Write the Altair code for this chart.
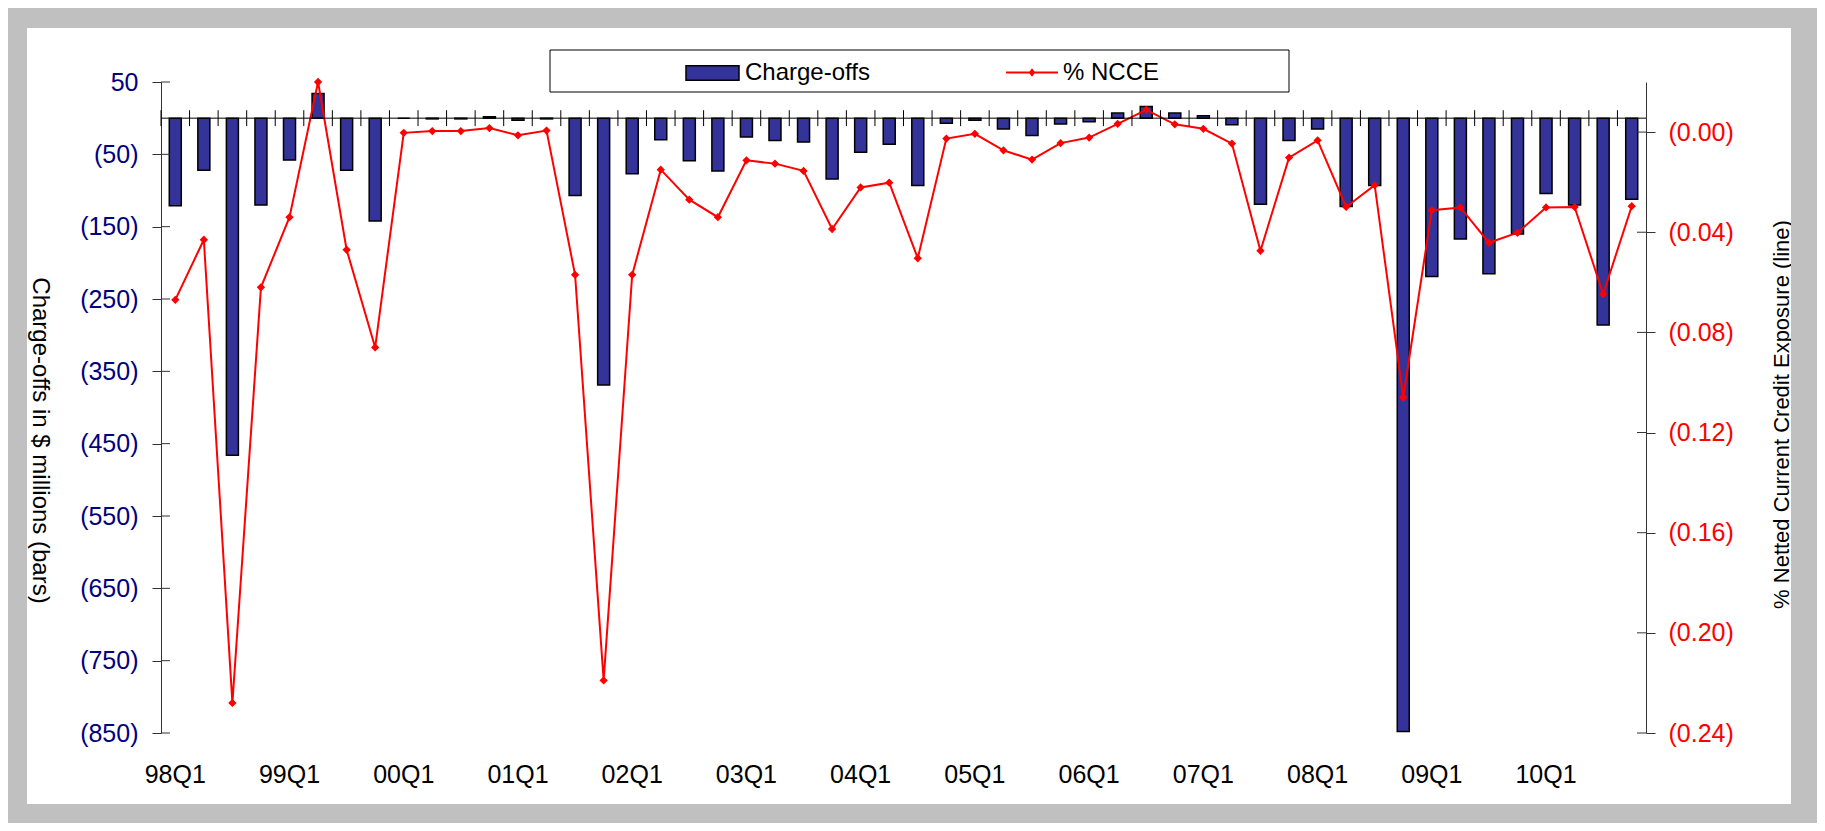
import altair as alt
import pandas as pd

years = ["98", "99", "00", "01", "02", "03", "04", "05", "06", "07", "08", "09", "10"]
quarters = [y + "Q" + str(q) for y in years for q in (1, 2, 3, 4)]
x_labels = [y + "Q1" for y in years]
series_names = ["Charge-offs", "% NCCE"]

charge_offs = [
    -121, -72, -466, -120, -58, 34, -72, -142,
    0, -1, -1, 2, -3, -1, -107, -369,
    -77, -30, -59, -73, -26, -31, -33, -84,
    -47, -36, -93, -7, -3, -15, -24, -8,
    -5, 7, 16, 7, 3.5, -9, -119, -31,
    -15, -122, -93, -848, -219, -167, -215, -160,
    -104, -120, -286, -112,
]
ncce = [
    -0.067, -0.043, -0.228, -0.062, -0.034, 0.020, -0.047, -0.086,
    -0.0003, 0.0004, 0.0004, 0.0016, -0.0013, 0.0006, -0.057, -0.219,
    -0.057, -0.015, -0.027, -0.034, -0.0113, -0.0126, -0.0155, -0.0387,
    -0.0221, -0.0202, -0.0504, -0.0026, -0.0007, -0.0073, -0.011, -0.0044,
    -0.0022, 0.0033, 0.0089, 0.0031, 0.0013, -0.0046, -0.0474, -0.0102,
    -0.0033, -0.0299, -0.0212, -0.106, -0.0312, -0.0301, -0.0442, -0.0402,
    -0.0301, -0.0299, -0.0647, -0.0296,
]
left_ticks = [50, -50, -150, -250, -350, -450, -550, -650, -750, -850]
right_ticks = [0.0, -0.04, -0.08, -0.12, -0.16, -0.20, -0.24]

W, H = 1485, 651
PAD = {"left": 153, "top": 74, "right": 171, "bottom": 90}
FONT = "Liberation Sans"
NAVY_BAR = "#333399"
RED = "#FF0000"
GREY = "#C0C0C0"
AXIS_COLOR = "#333333"

df = pd.DataFrame({"quarter": quarters, "charge": charge_offs, "ncce": ncce})
df["s_bar"] = series_names[0]
df["s_line"] = series_names[1]
df_q = pd.DataFrame({"quarter": quarters})
df_lt = pd.DataFrame({"v": left_ticks})
df_rt = pd.DataFrame({"v": right_ticks})
one = pd.DataFrame({"a": [0]})

YL = [-850, 50]
YR = [-0.24, 0.02]


def xscale():
    return alt.Scale(domain=quarters, paddingInner=0, paddingOuter=0)


def xaxis():
    return alt.Axis(
        values=x_labels, ticks=False, domain=False, grid=False, labelAngle=0,
        labelPadding=29, labelFontSize=25, labelColor="black", labelFont=FONT,
        title=None,
    )


def yl():
    return alt.Scale(domain=YL, nice=False, zero=False)


def yr():
    return alt.Scale(domain=YR, nice=False, zero=False)


# grey frame strips around the white panel (decoration)
L0, R0 = -PAD["left"], W + PAD["right"]
T0, B0 = -PAD["top"], H + PAD["bottom"]
PX0, PX1, PY0, PY1 = -134, 1630, -54, 722


def strip(x0, x1, y0, y1):
    return alt.Chart(one).mark_rect(fill=GREY).encode(
        x=alt.value(x0), x2=alt.value(x1), y=alt.value(y0), y2=alt.value(y1)
    )


bars = alt.Chart(df).mark_bar(size=12, stroke="black", strokeWidth=1.5).encode(
    x=alt.X("quarter:N", scale=xscale(), sort=None, axis=xaxis()),
    y=alt.Y(
        "charge:Q", scale=yl(),
        axis=alt.Axis(
            orient="left", values=left_ticks, grid=False,
            labelExpr="datum.value < 0 ? '(' + format(-datum.value, ',') + ')' : format(datum.value, ',') + '\u00a0\u00a0'",
            labelFontSize=25, labelColor="#000080", labelFont=FONT, labelPadding=14,
            tickSize=9, tickColor=AXIS_COLOR, domainColor=AXIS_COLOR,
            title="Charge-offs in $ millions (bars)", titleFont=FONT, titleFontSize=24,
            titleFontWeight="normal", titleColor="black", titleAngle=90,
            titleAlign="center", titleBaseline="middle", titleX=-122, titleY=358,
        ),
    ),
    fill=alt.Fill(
        "s_bar:N",
        scale=alt.Scale(domain=[series_names[0]], range=[NAVY_BAR]),
        legend=alt.Legend(
            orient="none", legendX=524, legendY=-36.5, title=None, padding=0,
            symbolType="M-1,-0.27H1V0.27H-1Z", symbolSize=2809,
            symbolStrokeColor="black", symbolStrokeWidth=1.5, symbolOffset=0,
            labelOffset=5, labelFontSize=24, labelFont=FONT, labelColor="black",
            zindex=2,
        ),
    ),
)

zero_rule = alt.Chart(one).mark_rule(color="black", strokeWidth=1).encode(
    y=alt.Y("z:Q", scale=yl(), axis=None)
).transform_calculate(z="0")

cat_ticks = alt.Chart(df_q).mark_rule(
    color="black", strokeWidth=1, xOffset=-W / len(quarters) / 2
).encode(
    x=alt.X("quarter:N", scale=xscale(), sort=None, axis=xaxis()),
    y=alt.Y("t1:Q", scale=yl(), axis=None),
    y2="t2:Q",
).transform_calculate(t1="11", t2="-11")

left_inner = alt.Chart(df_lt).mark_rule(color=AXIS_COLOR, strokeWidth=1).encode(
    y=alt.Y("v:Q", scale=yl(), axis=None),
    x=alt.value(0), x2=alt.value(9),
)

line = alt.Chart(df).mark_line(
    strokeWidth=2,
    point=alt.OverlayMarkDef(shape="diamond", size=30, filled=True, fill=RED, stroke=RED),
).encode(
    x=alt.X("quarter:N", scale=xscale(), sort=None, axis=xaxis()),
    y=alt.Y(
        "ncce:Q", scale=yr(),
        axis=alt.Axis(
            orient="right", values=right_ticks, grid=False,
            labelExpr="'(' + format(abs(datum.value), '.2f') + ')'",
            labelFontSize=25, labelColor=RED, labelFont=FONT, labelPadding=13,
            tickSize=9, tickColor=AXIS_COLOR, domainColor=AXIS_COLOR,
            title="% Netted Current Credit Exposure (line)", titleFont=FONT,
            titleFontSize=22, titleFontWeight="normal", titleColor="black",
            titleAngle=270, titleAlign="center", titleBaseline="middle",
            titleX=135, titleY=332,
        ),
    ),
    stroke=alt.Stroke(
        "s_line:N",
        scale=alt.Scale(domain=[series_names[1]], range=[RED]),
        legend=alt.Legend(
            orient="none", legendX=844, legendY=-36.5, title=None, padding=0,
            symbolType="M-1,0H1M-0.08,0L0,-0.1L0.08,0L0,0.1Z", symbolSize=2704,
            symbolStrokeWidth=2, symbolOffset=0,
            labelOffset=4, labelFontSize=24, labelFont=FONT, labelColor="black",
            zindex=2,
        ),
    ),
)

right_inner = alt.Chart(df_rt).mark_rule(color=AXIS_COLOR, strokeWidth=1).encode(
    y=alt.Y("v:Q", scale=yr(), axis=None),
    x=alt.value(W - 9), x2=alt.value(W),
)

legend_box = alt.Chart(one).mark_rect(fill="white", stroke="black", strokeWidth=1).encode(
    x=alt.value(389), x2=alt.value(1128), y=alt.value(-32), y2=alt.value(10)
)

chart = (
    alt.layer(
        bars, line, zero_rule, cat_ticks, left_inner, right_inner,
        strip(L0, R0, T0, PY0),
        strip(L0, R0, PY1, B0),
        strip(L0, PX0, T0, B0),
        strip(PX1, R0, T0, B0),
        legend_box,
    )
    .resolve_scale(y="independent")
    .properties(
        width=W, height=H,
        padding=PAD,
        autosize=alt.AutoSizeParams(type="none"),
    )
    .configure(background="white")
    .configure_view(strokeWidth=0)
)

chart.save("out.html", embed_options={"renderer": "svg", "actions": False})
